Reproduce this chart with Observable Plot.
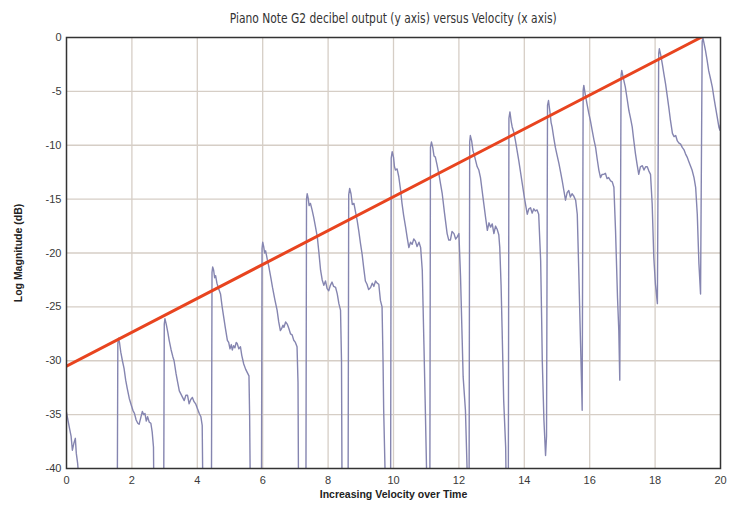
<!DOCTYPE html>
<html><head><meta charset="utf-8">
<script src="https://cdn.jsdelivr.net/npm/d3@7"></script>
<script src="https://cdn.jsdelivr.net/npm/@observablehq/plot@0.6"></script>
<style>
body{margin:0;background:#fff;}
#title{height:30px;width:735px;padding-left:52px;box-sizing:border-box;text-align:center;font-family:"Liberation Sans Narrow","DejaVu Sans Condensed",sans-serif;font-size:14px;line-height:36px;color:#333;white-space:nowrap;}
#title span{display:inline-block;transform:scaleX(0.85);transform-origin:center;}
</style></head><body>
<div id="title"><span id="titleText"></span></div>
<div id="chart"></div>
<script>
const chartTitle = "Piano Note G2 decibel output (y axis) versus Velocity (x axis)";
const xLabel = "Increasing Velocity over Time";
const yLabel = "Log Magnitude (dB)";
const xTicks = [0,2,4,6,8,10,12,14,16,18,20];
const yTicks = [0,-5,-10,-15,-20,-25,-30,-35,-40];

// Fit line: start and end points
const trendX = [0, 19.4];
const trendY = [-30.5, 0];

// Waveform (velocity/time, dB); -45 = below the visible floor
const wavePoints = [
 [0,-34.8],[0.05,-35.6],[0.1,-36.4],[0.14,-37.0],[0.18,-38.3],[0.23,-37.6],[0.27,-37.2],[0.3,-38.6],[0.34,-39.5],[0.38,-41],[0.42,-45],
 [1.55,-45],[1.57,-28.4],[1.59,-27.9],[1.62,-28.3],[1.66,-29.2],[1.71,-30.0],[1.76,-30.7],[1.81,-31.8],[1.86,-32.6],[1.92,-33.5],[1.98,-34.1],[2.03,-34.6],[2.08,-34.9],[2.13,-35.5],[2.18,-35.8],[2.22,-35.9],[2.27,-35.3],[2.32,-34.7],[2.36,-35.0],[2.40,-34.9],[2.44,-35.6],[2.48,-35.2],[2.53,-35.7],[2.58,-35.8],[2.62,-36.6],[2.66,-38],[2.68,-45],
 [2.97,-45],[2.99,-26.6],[3.01,-26.1],[3.05,-26.6],[3.10,-27.4],[3.14,-28.1],[3.20,-29.0],[3.25,-29.6],[3.29,-30.0],[3.35,-31.2],[3.40,-32.0],[3.45,-32.8],[3.50,-33.1],[3.55,-33.4],[3.60,-33.7],[3.65,-33.2],[3.70,-33.2],[3.75,-34.0],[3.80,-33.6],[3.85,-33.4],[3.90,-33.8],[3.95,-34.0],[4.00,-34.4],[4.06,-34.9],[4.11,-35.2],[4.15,-36],[4.18,-45],
 [4.43,-45],[4.45,-21.8],[4.47,-21.3],[4.50,-21.6],[4.53,-22.3],[4.56,-22.1],[4.60,-22.8],[4.65,-23.3],[4.71,-23.8],[4.76,-25.0],[4.81,-26.0],[4.86,-27.0],[4.92,-28.1],[4.96,-28.3],[5.00,-28.9],[5.04,-28.5],[5.07,-29.0],[5.11,-28.6],[5.15,-28.8],[5.19,-28.3],[5.22,-28.4],[5.27,-28.9],[5.32,-28.7],[5.36,-29.5],[5.42,-30.3],[5.48,-30.8],[5.53,-31.1],[5.58,-31.4],[5.60,-35],[5.63,-45],
 [5.96,-45],[5.98,-19.6],[6.00,-19.0],[6.03,-19.4],[6.06,-20.0],[6.09,-19.8],[6.14,-20.6],[6.19,-21.3],[6.25,-22.3],[6.30,-23.2],[6.37,-24.3],[6.44,-25.3],[6.49,-26.4],[6.54,-27.2],[6.58,-27.0],[6.62,-26.7],[6.65,-26.9],[6.70,-26.4],[6.75,-26.6],[6.80,-27.0],[6.85,-27.5],[6.90,-27.6],[6.95,-28.1],[7.00,-28.3],[7.05,-28.7],[7.08,-32],[7.10,-45],
 [7.32,-45],[7.34,-15.0],[7.36,-14.5],[7.39,-14.9],[7.42,-15.6],[7.46,-15.4],[7.51,-16.0],[7.56,-16.7],[7.61,-17.5],[7.67,-18.5],[7.72,-20.0],[7.77,-21.6],[7.82,-22.5],[7.87,-23.0],[7.92,-22.6],[7.97,-23.3],[8.02,-23.5],[8.07,-23.0],[8.12,-22.7],[8.17,-23.1],[8.23,-23.2],[8.28,-23.8],[8.33,-24.7],[8.38,-25.3],[8.41,-30],[8.43,-45],
 [8.61,-45],[8.63,-14.6],[8.66,-14.0],[8.70,-14.5],[8.74,-15.5],[8.79,-15.4],[8.84,-16.2],[8.89,-17.0],[8.94,-18.0],[8.99,-19.1],[9.04,-20.1],[9.09,-21.4],[9.14,-22.6],[9.19,-22.9],[9.24,-23.4],[9.30,-23.2],[9.35,-22.8],[9.40,-23.1],[9.45,-22.6],[9.50,-22.8],[9.55,-22.9],[9.60,-24.4],[9.65,-25.0],[9.68,-30],[9.70,-34.6],[9.74,-40],[9.76,-45],
 [9.91,-45],[9.93,-11.2],[9.96,-10.6],[10.00,-11.1],[10.03,-12.0],[10.06,-12.3],[10.11,-12.2],[10.16,-12.9],[10.21,-14.0],[10.26,-15.4],[10.31,-16.5],[10.37,-17.6],[10.42,-18.6],[10.47,-19.5],[10.52,-19.0],[10.57,-19.2],[10.62,-18.7],[10.67,-18.9],[10.72,-19.4],[10.78,-19.0],[10.83,-19.5],[10.88,-21.6],[10.93,-28.4],[10.97,-34],[11.01,-40],[11.03,-45],
 [11.11,-45],[11.13,-10.2],[11.16,-9.7],[11.20,-10.2],[11.24,-11.0],[11.28,-11.1],[11.33,-11.8],[11.39,-12.7],[11.44,-13.6],[11.49,-14.5],[11.56,-16.3],[11.64,-18.2],[11.69,-18.8],[11.74,-18.8],[11.79,-18.0],[11.85,-18.2],[11.90,-18.7],[11.95,-18.5],[12.00,-18.2],[12.05,-22.2],[12.10,-28],[12.13,-31.5],[12.20,-34.6],[12.25,-40],[12.27,-45],
 [12.31,-45],[12.33,-9.7],[12.35,-9.1],[12.39,-9.6],[12.43,-10.5],[12.47,-10.9],[12.51,-11.4],[12.56,-12.0],[12.61,-12.3],[12.66,-13.0],[12.71,-14.2],[12.76,-15.4],[12.82,-16.8],[12.87,-17.9],[12.92,-17.2],[12.97,-17.6],[13.02,-17.3],[13.07,-18.2],[13.12,-17.5],[13.17,-17.8],[13.22,-18.3],[13.25,-19.5],[13.29,-23],[13.32,-26.9],[13.37,-33.7],[13.43,-38],[13.46,-45],
 [13.51,-45],[13.53,-7.5],[13.56,-6.9],[13.60,-7.8],[13.63,-8.3],[13.68,-8.8],[13.73,-9.6],[13.78,-10.5],[13.83,-11.4],[13.88,-12.4],[13.94,-13.6],[14.01,-15.0],[14.09,-16.4],[14.14,-15.9],[14.19,-15.8],[14.24,-16.3],[14.29,-15.9],[14.34,-16.1],[14.39,-16.0],[14.44,-16.4],[14.50,-20.7],[14.53,-26],[14.55,-30.0],[14.60,-35.5],[14.65,-38.8],[14.68,-37],
 [14.71,-6.3],[14.74,-5.85],[14.78,-6.8],[14.82,-7.9],[14.85,-8.3],[14.90,-9.3],[14.95,-10.2],[15.00,-10.9],[15.06,-11.7],[15.11,-12.5],[15.16,-13.3],[15.21,-14.2],[15.26,-15.1],[15.31,-14.4],[15.36,-14.2],[15.41,-14.8],[15.46,-14.5],[15.51,-14.7],[15.57,-15.1],[15.62,-16.4],[15.67,-22.2],[15.72,-28.4],[15.75,-32],[15.77,-34.6],
 [15.80,-4.9],[15.82,-4.45],[15.86,-5.2],[15.92,-6.2],[15.97,-7.0],[16.02,-7.7],[16.08,-8.7],[16.13,-9.5],[16.18,-10.2],[16.23,-11.3],[16.28,-12.3],[16.33,-13.0],[16.38,-12.7],[16.43,-12.7],[16.48,-12.6],[16.53,-13.1],[16.58,-13.0],[16.64,-13.3],[16.69,-13.4],[16.74,-13.9],[16.79,-17.9],[16.85,-24.1],[16.89,-27.2],[16.92,-31.8],
 [16.96,-3.5],[16.98,-3.06],[17.03,-3.8],[17.09,-4.6],[17.15,-5.8],[17.20,-6.8],[17.25,-7.5],[17.30,-8.3],[17.35,-9.6],[17.40,-10.8],[17.45,-11.8],[17.50,-12.7],[17.55,-12.0],[17.61,-11.9],[17.66,-12.3],[17.71,-12.0],[17.76,-12.0],[17.81,-12.4],[17.86,-12.7],[17.91,-15.4],[17.96,-20.4],[18.01,-22.9],[18.07,-24.7],
 [18.11,-1.5],[18.13,-1.05],[18.17,-1.6],[18.22,-2.45],[18.27,-3.4],[18.32,-4.3],[18.37,-5.4],[18.42,-6.5],[18.47,-7.7],[18.53,-8.9],[18.58,-9.2],[18.63,-9.1],[18.68,-9.6],[18.73,-9.8],[18.78,-9.9],[18.83,-10.2],[18.88,-10.4],[18.93,-10.8],[18.98,-11.1],[19.03,-11.5],[19.08,-11.9],[19.13,-12.3],[19.19,-13.0],[19.24,-13.9],[19.29,-16.4],[19.34,-21.0],[19.39,-23.8],
 [19.44,-0.4],[19.46,0],[19.50,-0.6],[19.54,-1.2],[19.59,-2.1],[19.64,-3.1],[19.70,-3.9],[19.75,-4.6],[19.80,-5.6],[19.85,-6.5],[19.90,-7.4],[19.95,-8.3],[19.98,-8.6],[20.0,-8.1]
];

document.getElementById("titleText").textContent = chartTitle;

const wave = wavePoints.map(([x, y]) => ({x, y}));
const trend = trendX.map((x, i) => ({x, y: trendY[i]}));

const chart = Plot.plot({
  width: 735, height: 475,
  marginTop: 7, marginBottom: 37, marginLeft: 66, marginRight: 15,
  style: {fontFamily: "'Liberation Sans', Arial, sans-serif", fontSize: "11px", color: "#3a3a3a", background: "#fff", overflow: "visible"},
  x: {domain: [0, 20], ticks: xTicks, tickSize: 0, tickPadding: 8, label: null, tickFormat: d => String(d)},
  y: {domain: [-40, 0], ticks: yTicks, tickSize: 0, tickPadding: 5, label: null, tickFormat: d => String(d)},
  marks: [
    Plot.gridX(xTicks.filter(d => d > 0 && d < 20), {stroke: "#d6cec6", strokeOpacity: 1, strokeWidth: 1.3}),
    Plot.gridY(yTicks.filter(d => d < 0 && d > -40), {stroke: "#d6cec6", strokeOpacity: 1, strokeWidth: 1.3}),
    Plot.line(wave, {x: "x", y: "y", stroke: "#8585b0", strokeWidth: 1.4, clip: true}),
    Plot.line(trend, {x: "x", y: "y", stroke: "#e8441f", strokeWidth: 3, clip: true}),
    Plot.frame({stroke: "#333", strokeWidth: 1.5}),
    Plot.text([xLabel], {frameAnchor: "bottom", textAnchor: "middle", lineAnchor: "middle", dy: 26, fontWeight: "bold", fontSize: 10.5, fill: "#222"}),
    Plot.text([yLabel], {frameAnchor: "left", textAnchor: "middle", lineAnchor: "middle", dx: -48, rotate: -90, fontWeight: "bold", fontSize: 10.5, fill: "#222"})
  ]
});
document.getElementById("chart").appendChild(chart);
</script></body></html>
